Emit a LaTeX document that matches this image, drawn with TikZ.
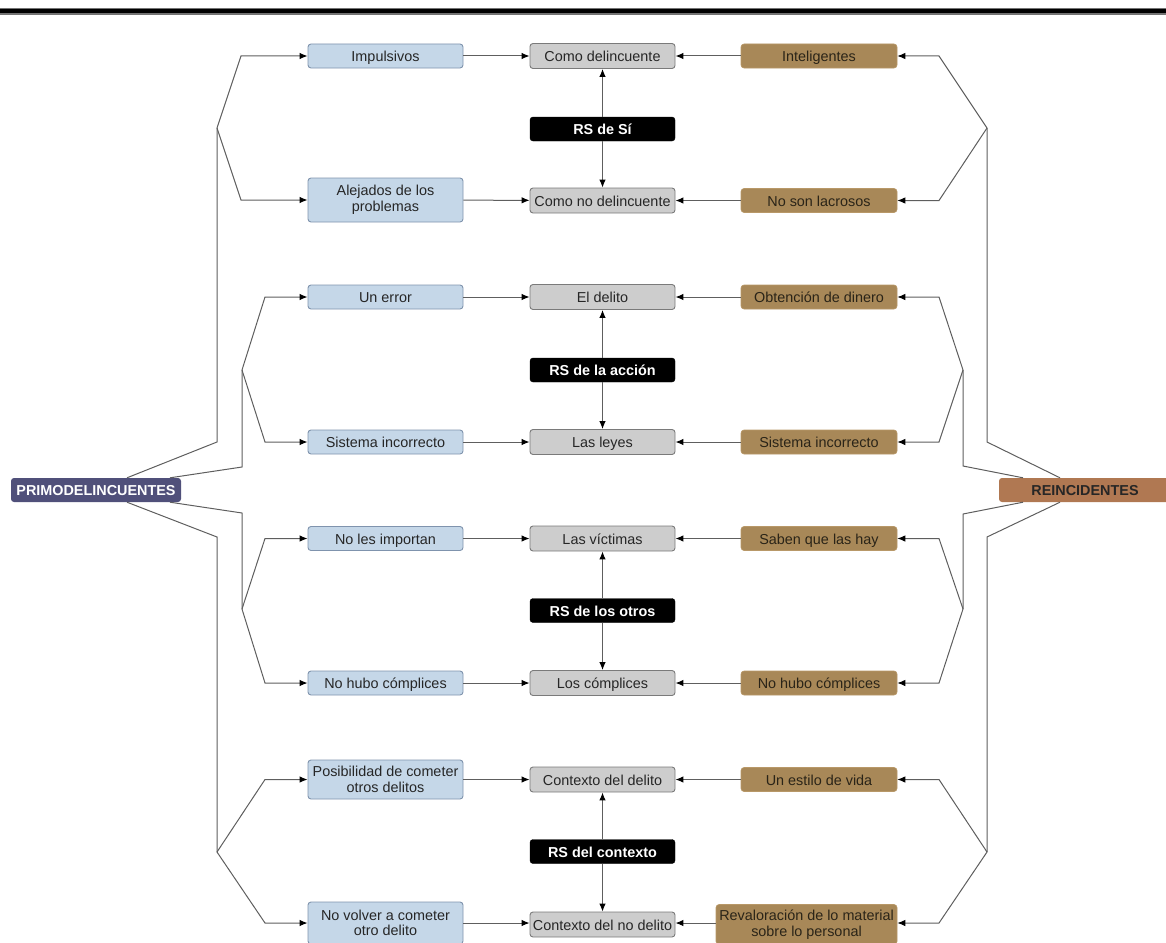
\documentclass[tikz,border=0pt]{standalone}
\usepackage{fontspec}
\setmainfont{Liberation Sans}
\usetikzlibrary{arrows.meta}

\definecolor{bluefill}{HTML}{C5D7E8}
\definecolor{blueline}{HTML}{7F93AD}
\definecolor{grayfill}{HTML}{CDCDCD}
\definecolor{grayline}{HTML}{7A7A7A}
\definecolor{tanfill}{HTML}{A88858}
\definecolor{tanline}{HTML}{B89868}
\definecolor{primfill}{HTML}{50507A}
\definecolor{reinfill}{HTML}{B07852}
\definecolor{wire}{HTML}{5E5E5E}
\definecolor{darktext}{HTML}{2A2418}

\tikzset{
  x=1pt, y=-1pt,
  every node/.style={font=\fontsize{14.4}{15.5}\selectfont, inner sep=2pt, rounded corners=3pt, align=center,
                     text height=11.5pt, text depth=0pt},
  twoline/.style={text height={}, text depth={}},
  leftbox/.style={fill=bluefill, draw=blueline, line width=0.9pt, minimum width=155pt, minimum height=24pt, text=black!85},
  midbox/.style={fill=grayfill, draw=grayline, line width=0.9pt, minimum width=145pt, minimum height=25pt, text=black!85},
  rightbox/.style={fill=tanfill, draw=tanline, line width=0.6pt, minimum width=156pt, minimum height=24pt, text=darktext},
  rsbox/.style={fill=black, draw=black, minimum width=145pt, minimum height=24pt, text=white, font=\fontsize{14.4}{15.5}\selectfont\bfseries},
  hub/.style={minimum height=24pt, font=\fontsize{14.4}{15.5}\selectfont\bfseries},
  wireline/.style={draw=wire, line width=1pt},
  arr/.style={wireline, -{Latex[length=8pt,width=6.5pt,color=black]}},
}

\begin{document}
\begin{tikzpicture}
\useasboundingbox (0,0) rectangle (1166,942);

% heading rule
\fill[black!55] (0,8) rectangle (1166,15);
\fill[black] (0,9.5) rectangle (1166,13.5);

% hubs
\node[hub, fill=primfill, text=white, minimum width=170pt] (prim) at (96,490) {PRIMODELINCUENTES};
\node[hub, fill=reinfill, text=black!85, minimum width=172pt] (rein) at (1085,490) {REINCIDENTES};

% group 1: RS de Sí
\node[leftbox] (imp) at (385.5,56) {Impulsivos};
\node[leftbox, twoline, minimum height=44pt] (alej) at (385.5,200) {Alejados de los\\problemas};
\node[midbox] (comoD) at (602.5,56) {Como delincuente};
\node[midbox] (comoN) at (602.5,200.5) {Como no delincuente};
\node[rsbox] (rs1) at (602.5,129) {RS de Sí};
\node[rightbox] (intel) at (819,56) {Inteligentes};
\node[rightbox] (nolac) at (819,200.5) {No son lacrosos};

% group 2: RS de la acción
\node[leftbox] (err) at (385.5,297) {Un error};
\node[leftbox] (sisL) at (385.5,442) {Sistema incorrecto};
\node[midbox] (delito) at (602.5,297) {El delito};
\node[midbox] (leyes) at (602.5,442) {Las leyes};
\node[rsbox] (rs2) at (602.5,370) {RS de la acción};
\node[rightbox] (obt) at (819,297) {Obtención de dinero};
\node[rightbox] (sisR) at (819,442) {Sistema incorrecto};

% group 3: RS de los otros
\node[leftbox] (noimp) at (385.5,538.5) {No les importan};
\node[leftbox] (hubL) at (385.5,683) {No hubo cómplices};
\node[midbox] (vict) at (602.5,538.5) {Las víctimas};
\node[midbox] (compl) at (602.5,683) {Los cómplices};
\node[rsbox] (rs3) at (602.5,610.5) {RS de los otros};
\node[rightbox] (saben) at (819,538.5) {Saben que las hay};
\node[rightbox] (hubR) at (819,683) {No hubo cómplices};

% group 4: RS del contexto
\node[leftbox, twoline, minimum height=39pt] (pos) at (385.5,779.5) {Posibilidad de cometer\\otros delitos};
\node[leftbox, twoline, minimum height=42pt] (novol) at (385.5,923) {No volver a cometer\\otro delito};
\node[midbox] (ctxD) at (602.5,779.5) {Contexto del delito};
\node[midbox] (ctxN) at (602.5,924.5) {Contexto del no delito};
\node[rsbox] (rs4) at (602.5,851.5) {RS del contexto};
\node[rightbox] (estilo) at (819,779.5) {Un estilo de vida};
\node[rightbox, twoline, minimum width=181pt, minimum height=40pt, inner sep=1pt] (reval) at (806.5,924.5) {Revaloración de lo material\\sobre lo personal};

% branch points
\coordinate (bL1) at (217,128);
\coordinate (bL2) at (242,370);
\coordinate (bL3) at (242,609);
\coordinate (bL4) at (217,852);
\coordinate (bR1) at (987,128);
\coordinate (bR2) at (963,370);
\coordinate (bR3) at (963,609);
\coordinate (bR4) at (987,852);

% trunks from PRIMODELINCUENTES
\draw[wireline] ([xshift=31pt]prim.north) -- (217,442) -- (bL1);
\draw[wireline] ([xshift=74pt]prim.north) -- (242,467) -- (bL2);
\draw[wireline] ([xshift=74pt]prim.south) -- (242,513) -- (bL3);
\draw[wireline] ([xshift=31pt]prim.south) -- (217,537) -- (bL4);

% trunks from REINCIDENTES
\draw[wireline] ([xshift=-25pt]rein.north) -- (987,442) -- (bR1);
\draw[wireline] ([xshift=-62pt]rein.north) -- (963,466) -- (bR2);
\draw[wireline] ([xshift=-62pt]rein.south) -- (963,514) -- (bR3);
\draw[wireline] ([xshift=-25pt]rein.south) -- (987,537) -- (bR4);

% left branches
\draw[arr] (bL1) -- (241,56) -- (imp);
\draw[arr] (bL1) -- (241,200) -- (alej);
\draw[arr] (bL2) -- (265,297) -- (err);
\draw[arr] (bL2) -- (265,442) -- (sisL);
\draw[arr] (bL3) -- (265,538.5) -- (noimp);
\draw[arr] (bL3) -- (265,683) -- (hubL);
\draw[arr] (bL4) -- (265,779.5) -- (pos);
\draw[arr] (bL4) -- (265,923) -- (novol.west |- 0,923);

% right branches
\draw[arr] (bR1) -- (939,56) -- (intel);
\draw[arr] (bR1) -- (939,200.5) -- (nolac);
\draw[arr] (bR2) -- (939,297) -- (obt);
\draw[arr] (bR2) -- (939,442) -- (sisR);
\draw[arr] (bR3) -- (939,538.5) -- (saben);
\draw[arr] (bR3) -- (939,683) -- (hubR);
\draw[arr] (bR4) -- (939,779.5) -- (estilo);
\draw[arr] (bR4) -- (939,923) -- (reval.east |- 0,923);

% into the central column
\foreach \a/\b in {imp/comoD, alej/comoN, err/delito, sisL/leyes, noimp/vict, hubL/compl, pos/ctxD,
                   intel/comoD, nolac/comoN, obt/delito, sisR/leyes, saben/vict, hubR/compl, estilo/ctxD}
  \draw[arr] (\a) -- (\b);
\draw[arr] (novol.east |- 0,923) -- (ctxN.west |- 0,923);
\draw[arr] (reval.west |- 0,923) -- (ctxN.east |- 0,923);

% RS links
\foreach \r/\u/\d in {rs1/comoD/comoN, rs2/delito/leyes, rs3/vict/compl, rs4/ctxD/ctxN} {
  \draw[arr] (\r) -- (\u);
  \draw[arr] (\r) -- (\d);
}
\end{tikzpicture}
\end{document}
